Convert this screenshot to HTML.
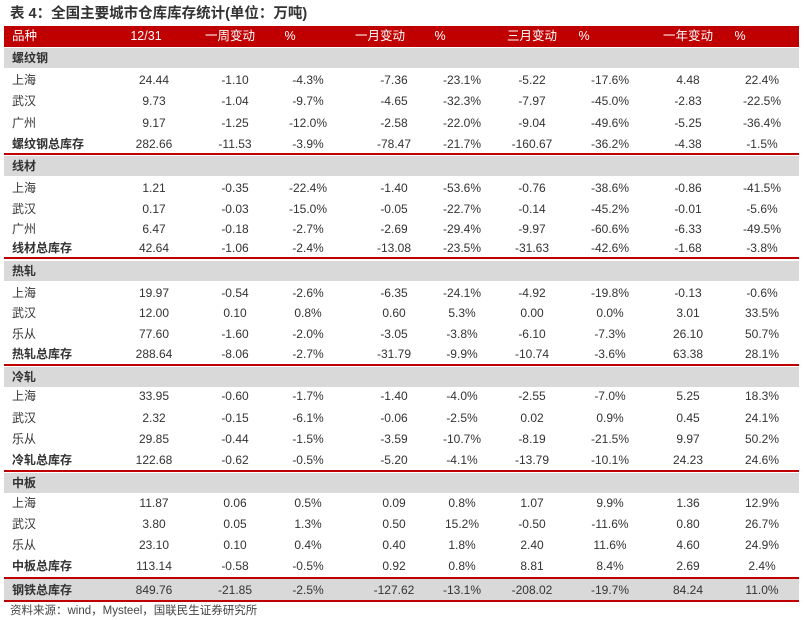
<!DOCTYPE html><html><head><meta charset="utf-8"><style>
body{margin:0;width:804px;height:620px;background:#fff;font-family:"Liberation Sans","Noto Sans CJK SC",sans-serif;position:relative;overflow:hidden;color:#333}
.t{position:absolute;left:10px;top:2px;font-size:14.5px;font-weight:bold;color:#333}
.r{position:absolute;left:4px;width:795px;height:20px;line-height:20px;font-size:12px}
.r span{position:absolute;top:0;text-align:center;width:80px;white-space:nowrap}
.r span:first-child{left:8px;text-align:left;width:120px}
.h{background:#c00000;color:#fff;height:21px;line-height:21px;font-size:12.5px}
.g{background:#d9d9d9;font-weight:bold}
.b{font-weight:bold}
.b span{font-weight:normal}.b span:first-child{font-weight:bold}
.line{position:absolute;left:4px;width:795px;height:2px;background:#c00000}
.s{position:absolute;left:10px;top:602px;font-size:11.5px;color:#444}
.c1{left:110px}.c2{left:191px}.c3{left:264px}.c4{left:350px}.c5{left:418px}.c6{left:488px}.c7{left:566px}.c8{left:644px}.c9{left:718px}
</style></head><body>
<div class="t">表 4：全国主要城市仓库库存统计(单位：万吨)</div>
<div class="r h" style="top:26px"><span>品种</span><span class="c1" style="left:102px">12/31</span><span class="c2" style="left:186px">一周变动</span><span class="c3" style="left:246px">%</span><span class="c4" style="left:336px">一月变动</span><span class="c5" style="left:396px">%</span><span class="c6" style="left:488px">三月变动</span><span class="c7" style="left:540px">%</span><span class="c8" style="left:644px">一年变动</span><span class="c9" style="left:696px">%</span></div>

<div class="r g" style="top:48px"><span>螺纹钢</span></div>
<div class="r" style="top:70px"><span>上海</span><span class="c1">24.44</span><span class="c2">-1.10</span><span class="c3">-4.3%</span><span class="c4">-7.36</span><span class="c5">-23.1%</span><span class="c6">-5.22</span><span class="c7">-17.6%</span><span class="c8">4.48</span><span class="c9">22.4%</span></div>
<div class="r" style="top:91px"><span>武汉</span><span class="c1">9.73</span><span class="c2">-1.04</span><span class="c3">-9.7%</span><span class="c4">-4.65</span><span class="c5">-32.3%</span><span class="c6">-7.97</span><span class="c7">-45.0%</span><span class="c8">-2.83</span><span class="c9">-22.5%</span></div>
<div class="r" style="top:113px"><span>广州</span><span class="c1">9.17</span><span class="c2">-1.25</span><span class="c3">-12.0%</span><span class="c4">-2.58</span><span class="c5">-22.0%</span><span class="c6">-9.04</span><span class="c7">-49.6%</span><span class="c8">-5.25</span><span class="c9">-36.4%</span></div>
<div class="r b" style="top:134px"><span>螺纹钢总库存</span><span class="c1">282.66</span><span class="c2">-11.53</span><span class="c3">-3.9%</span><span class="c4">-78.47</span><span class="c5">-21.7%</span><span class="c6">-160.67</span><span class="c7">-36.2%</span><span class="c8">-4.38</span><span class="c9">-1.5%</span></div>
<div class="line" style="top:153px"></div>

<div class="r g" style="top:156px"><span>线材</span></div>
<div class="r" style="top:178px"><span>上海</span><span class="c1">1.21</span><span class="c2">-0.35</span><span class="c3">-22.4%</span><span class="c4">-1.40</span><span class="c5">-53.6%</span><span class="c6">-0.76</span><span class="c7">-38.6%</span><span class="c8">-0.86</span><span class="c9">-41.5%</span></div>
<div class="r" style="top:199px"><span>武汉</span><span class="c1">0.17</span><span class="c2">-0.03</span><span class="c3">-15.0%</span><span class="c4">-0.05</span><span class="c5">-22.7%</span><span class="c6">-0.14</span><span class="c7">-45.2%</span><span class="c8">-0.01</span><span class="c9">-5.6%</span></div>
<div class="r" style="top:219px"><span>广州</span><span class="c1">6.47</span><span class="c2">-0.18</span><span class="c3">-2.7%</span><span class="c4">-2.69</span><span class="c5">-29.4%</span><span class="c6">-9.97</span><span class="c7">-60.6%</span><span class="c8">-6.33</span><span class="c9">-49.5%</span></div>
<div class="r b" style="top:238px"><span>线材总库存</span><span class="c1">42.64</span><span class="c2">-1.06</span><span class="c3">-2.4%</span><span class="c4">-13.08</span><span class="c5">-23.5%</span><span class="c6">-31.63</span><span class="c7">-42.6%</span><span class="c8">-1.68</span><span class="c9">-3.8%</span></div>
<div class="line" style="top:257px"></div>

<div class="r g" style="top:261px"><span>热轧</span></div>
<div class="r" style="top:283px"><span>上海</span><span class="c1">19.97</span><span class="c2">-0.54</span><span class="c3">-2.6%</span><span class="c4">-6.35</span><span class="c5">-24.1%</span><span class="c6">-4.92</span><span class="c7">-19.8%</span><span class="c8">-0.13</span><span class="c9">-0.6%</span></div>
<div class="r" style="top:303px"><span>武汉</span><span class="c1">12.00</span><span class="c2">0.10</span><span class="c3">0.8%</span><span class="c4">0.60</span><span class="c5">5.3%</span><span class="c6">0.00</span><span class="c7">0.0%</span><span class="c8">3.01</span><span class="c9">33.5%</span></div>
<div class="r" style="top:324px"><span>乐从</span><span class="c1">77.60</span><span class="c2">-1.60</span><span class="c3">-2.0%</span><span class="c4">-3.05</span><span class="c5">-3.8%</span><span class="c6">-6.10</span><span class="c7">-7.3%</span><span class="c8">26.10</span><span class="c9">50.7%</span></div>
<div class="r b" style="top:344px"><span>热轧总库存</span><span class="c1">288.64</span><span class="c2">-8.06</span><span class="c3">-2.7%</span><span class="c4">-31.79</span><span class="c5">-9.9%</span><span class="c6">-10.74</span><span class="c7">-3.6%</span><span class="c8">63.38</span><span class="c9">28.1%</span></div>
<div class="line" style="top:364px"></div>

<div class="r g" style="top:367px"><span>冷轧</span></div>
<div class="r" style="top:386px"><span>上海</span><span class="c1">33.95</span><span class="c2">-0.60</span><span class="c3">-1.7%</span><span class="c4">-1.40</span><span class="c5">-4.0%</span><span class="c6">-2.55</span><span class="c7">-7.0%</span><span class="c8">5.25</span><span class="c9">18.3%</span></div>
<div class="r" style="top:408px"><span>武汉</span><span class="c1">2.32</span><span class="c2">-0.15</span><span class="c3">-6.1%</span><span class="c4">-0.06</span><span class="c5">-2.5%</span><span class="c6">0.02</span><span class="c7">0.9%</span><span class="c8">0.45</span><span class="c9">24.1%</span></div>
<div class="r" style="top:429px"><span>乐从</span><span class="c1">29.85</span><span class="c2">-0.44</span><span class="c3">-1.5%</span><span class="c4">-3.59</span><span class="c5">-10.7%</span><span class="c6">-8.19</span><span class="c7">-21.5%</span><span class="c8">9.97</span><span class="c9">50.2%</span></div>
<div class="r b" style="top:450px"><span>冷轧总库存</span><span class="c1">122.68</span><span class="c2">-0.62</span><span class="c3">-0.5%</span><span class="c4">-5.20</span><span class="c5">-4.1%</span><span class="c6">-13.79</span><span class="c7">-10.1%</span><span class="c8">24.23</span><span class="c9">24.6%</span></div>
<div class="line" style="top:470px"></div>

<div class="r g" style="top:473px"><span>中板</span></div>
<div class="r" style="top:493px"><span>上海</span><span class="c1">11.87</span><span class="c2">0.06</span><span class="c3">0.5%</span><span class="c4">0.09</span><span class="c5">0.8%</span><span class="c6">1.07</span><span class="c7">9.9%</span><span class="c8">1.36</span><span class="c9">12.9%</span></div>
<div class="r" style="top:514px"><span>武汉</span><span class="c1">3.80</span><span class="c2">0.05</span><span class="c3">1.3%</span><span class="c4">0.50</span><span class="c5">15.2%</span><span class="c6">-0.50</span><span class="c7">-11.6%</span><span class="c8">0.80</span><span class="c9">26.7%</span></div>
<div class="r" style="top:535px"><span>乐从</span><span class="c1">23.10</span><span class="c2">0.10</span><span class="c3">0.4%</span><span class="c4">0.40</span><span class="c5">1.8%</span><span class="c6">2.40</span><span class="c7">11.6%</span><span class="c8">4.60</span><span class="c9">24.9%</span></div>
<div class="r b" style="top:556px"><span>中板总库存</span><span class="c1">113.14</span><span class="c2">-0.58</span><span class="c3">-0.5%</span><span class="c4">0.92</span><span class="c5">0.8%</span><span class="c6">8.81</span><span class="c7">8.4%</span><span class="c8">2.69</span><span class="c9">2.4%</span></div>
<div class="line" style="top:577px"></div>

<div class="r g b" style="top:579px;height:22px;line-height:22px"><span>钢铁总库存</span><span class="c1">849.76</span><span class="c2">-21.85</span><span class="c3">-2.5%</span><span class="c4">-127.62</span><span class="c5">-13.1%</span><span class="c6">-208.02</span><span class="c7">-19.7%</span><span class="c8">84.24</span><span class="c9">11.0%</span></div>
<div class="line" style="top:600px"></div>
<div class="s">资料来源：wind，Mysteel，国联民生证券研究所</div>
</body></html>
